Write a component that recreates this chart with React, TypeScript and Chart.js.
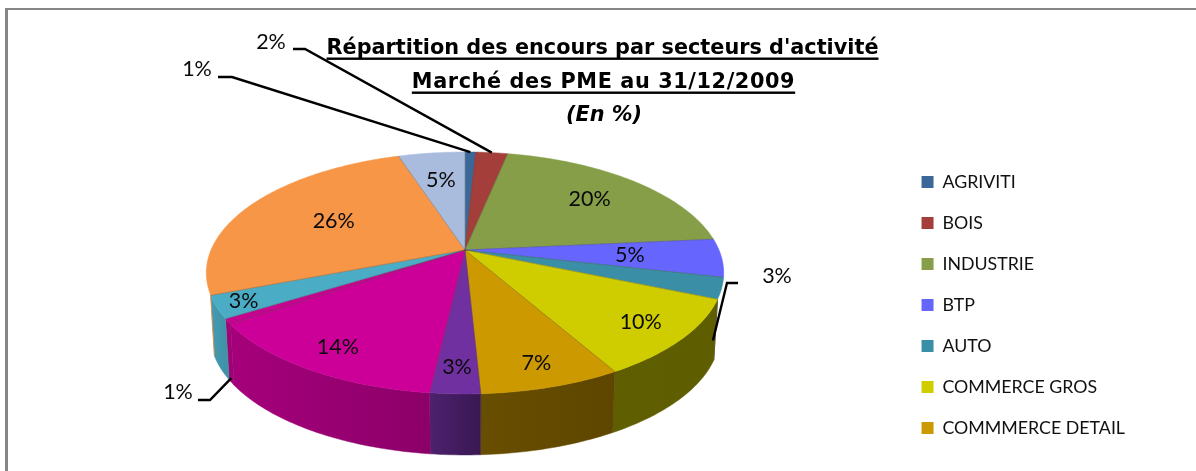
import React, { useEffect, useRef } from "react";
import { Chart, registerables } from "chart.js";

Chart.register(...registerables);

const titleLines = ["Répartition des encours par secteurs d'activité", "Marché des PME au 31/12/2009"];
const titleNote = "(En %)";
// Only the first seven legend entries are visible in the reference; the others are cut off.
const categories = ["AGRIVITI", "BOIS", "INDUSTRIE", "BTP", "AUTO", "COMMERCE GROS", "COMMMERCE DETAIL", "", " ", "  ", "   ", "    ", "     "];
const shares = [0.8, 2.4, 20.3, 5.1, 2.8, 10.4, 7.4, 2.6, 13.6, 0.7, 3.0, 25.9, 5.0];
const colors = ["#3c6899", "#a33e3b", "#859e47", "#6666ff", "#3a8fa6", "#cfcc00", "#cc9900", "#7030a0", "#cc0099", "#c4048f", "#4bacc6", "#f79646", "#a9bcdd"];
const visibleLegendEntries = 7;

// Style of the pseudo-3D projection
const CX = 465, CY = 250, RX = 254, RY = 116.6, K = 0.19, DEPTH = 61, BASE_SCALE = 0.985;
const WALL_FROM = (113 * Math.PI) / 180, WALL_TO = (249 * Math.PI) / 180;
const insideLabelRadius = [0, 0, 0.72, 0.645, 0, 0.83, 0.85, 0.844, 0.84, 0, 0.9, 0.6, 0.684];
const leaders: Record<number, { text: [number, number]; stub: [number, number, number]; depth: number; radius: number }> = {
  0: { text: [197, 69], stub: [218, 232, 77], depth: 0, radius: 1 },
  1: { text: [271, 42], stub: [293, 305, 49], depth: 0, radius: 1 },
  4: { text: [777, 276], stub: [738, 727, 283], depth: 0.87, radius: 0.98 },
  9: { text: [178, 392], stub: [198, 210, 400], depth: 0.93, radius: 1 },
};
const shadeStops: [number, number][] = [[90, 0.45], [150, 0.46], [175, 0.5], [186.3, 0.55], [186.5, 0.7], [200, 0.72], [235, 0.8], [240, 0.88], [270, 0.95]];

function project(theta: number, r: number, t = 0): [number, number] {
  const X = r * Math.sin(theta), Y = r * Math.cos(theta), w = 1 + K * Y;
  const s = 1 - (1 - BASE_SCALE) * t;
  return [CX + (RX * X * s) / w, CY - (RY * Y) / w + DEPTH * t];
}
function shade(hex: string, deg: number) {
  let f = shadeStops[0][1];
  for (let i = 0; i < shadeStops.length - 1; i++) {
    const [a, fa] = shadeStops[i], [b, fb] = shadeStops[i + 1];
    if (deg >= a && deg <= b) f = fa + ((fb - fa) * (deg - a)) / (b - a);
  }
  const n = parseInt(hex.slice(1), 16);
  return `rgb(${((n >> 16) & 255) * f},${((n >> 8) & 255) * f},${(n & 255) * f})`;
}

const pie3d = {
  id: "pie3d",
  beforeDatasetDraw(chart: any, args: any) {
    const ctx = chart.ctx;
    const arcs = args.meta.data.map((a: any) => ({ a: a.startAngle + Math.PI / 2, b: a.endAngle + Math.PI / 2 }));
    const step = Math.PI / 180;
    ctx.save();
    // side wall
    arcs.forEach((arc: any, i: number) => {
      const a = Math.max(arc.a, WALL_FROM), b = Math.min(arc.b, WALL_TO);
      if (b <= a) return;
      const n = Math.max(2, Math.ceil((b - a) / step));
      const pts: [number, number][] = [];
      for (let j = 0; j <= n; j++) pts.push(project(a + ((b - a) * j) / n, 1, 0));
      for (let j = n; j >= 0; j--) pts.push(project(a + ((b - a) * j) / n, 1, 1));
      const g = ctx.createLinearGradient(project(a, 1)[0], 0, project(b, 1)[0], 0);
      g.addColorStop(0, shade(colors[i], (a * 180) / Math.PI));
      g.addColorStop(1, shade(colors[i], (b * 180) / Math.PI));
      ctx.fillStyle = g;
      ctx.strokeStyle = g;
      ctx.lineWidth = 0.5;
      ctx.beginPath();
      pts.forEach((p, k) => (k ? ctx.lineTo(p[0], p[1]) : ctx.moveTo(p[0], p[1])));
      ctx.closePath();
      ctx.fill();
      ctx.stroke();
    });
    // top face
    arcs.forEach((arc: any, i: number) => {
      const n = Math.max(2, Math.ceil((arc.b - arc.a) / step));
      ctx.beginPath();
      ctx.moveTo(CX, CY);
      for (let j = 0; j <= n; j++) {
        const p = project(arc.a + ((arc.b - arc.a) * j) / n, 1);
        ctx.lineTo(p[0], p[1]);
      }
      ctx.closePath();
      ctx.fillStyle = colors[i];
      ctx.strokeStyle = colors[i];
      ctx.lineWidth = 0.5;
      ctx.fill();
      ctx.stroke();
    });
    // soft seams between slices
    ctx.strokeStyle = "rgba(60,50,40,0.28)";
    ctx.lineWidth = 1;
    arcs.forEach((arc: any) => {
      const p = project(arc.a, 1);
      ctx.beginPath();
      ctx.moveTo(CX, CY);
      ctx.lineTo(p[0], p[1]);
      ctx.stroke();
    });
    // value labels and leaders
    ctx.font = "21.5px Lato";
    ctx.fillStyle = "#0a0a0a";
    ctx.textAlign = "center";
    ctx.textBaseline = "middle";
    arcs.forEach((arc: any, i: number) => {
      const mid = (arc.a + arc.b) / 2;
      const text = `${Math.round(shares[i])}%`;
      const leader = leaders[i];
      if (leader) {
        const end = project(mid, leader.radius, leader.depth);
        ctx.strokeStyle = "#000";
        ctx.lineWidth = 2.4;
        ctx.beginPath();
        ctx.moveTo(leader.stub[0], leader.stub[2]);
        ctx.lineTo(leader.stub[1], leader.stub[2]);
        ctx.lineTo(end[0], end[1]);
        ctx.stroke();
        ctx.fillText(text, leader.text[0], leader.text[1]);
      } else {
        const p = project(mid, insideLabelRadius[i]);
        ctx.fillText(text, p[0], p[1]);
      }
    });
    ctx.restore();
    return false;
  },
  beforeDraw(chart: any) {
    const ctx = chart.ctx;
    ctx.save();
    ctx.fillStyle = "#ffffff";
    ctx.fillRect(0, 0, chart.width, chart.height);
    ctx.fillStyle = "#868686";
    ctx.fillRect(5, 8, chart.width - 5, 2);
    ctx.fillRect(5, 8, 3, chart.height - 8);
    // title
    ctx.fillStyle = "#000";
    ctx.textAlign = "center";
    ctx.textBaseline = "alphabetic";
    ctx.font = 'bold 20.8px "DejaVu Sans"';
    [[602.5, 54, "0px"], [603.5, 88, "0.6px"]].forEach(([x, y, spacing]: any, i) => {
      ctx.letterSpacing = spacing;
      ctx.fillText(titleLines[i], x, y);
      const w = ctx.measureText(titleLines[i]).width;
      ctx.fillRect(x - w / 2, y + 3.5, w, 2.4);
    });
    ctx.letterSpacing = "0px";
    ctx.font = 'italic bold 20.8px "DejaVu Sans"';
    ctx.fillText(titleNote, 604, 121);
    ctx.restore();
  },
};

export default function App() {
  const ref = useRef<HTMLCanvasElement>(null);
  useEffect(() => {
    const chart = new Chart(ref.current!, {
      type: "pie",
      data: {
        labels: categories,
        datasets: [{ data: shares, backgroundColor: colors, borderWidth: 0 }],
      },
      options: {
        responsive: false,
        animation: false,
        layout: { padding: { top: 150, right: 61 } },
        plugins: {
          tooltip: { enabled: false },
          legend: {
            position: "right",
            align: "start",
            labels: {
              boxWidth: 12,
              boxHeight: 12,
              padding: 23.2,
              color: "#111",
              font: { family: "Lato", size: 17.8 },
              filter: (item: any) => item.index < visibleLegendEntries,
            },
          },
        },
      },
      plugins: [pie3d],
    } as any);
    return () => chart.destroy();
  }, []);
  return (
    <div style={{ position: "absolute", left: 0, top: 0, width: 1196, height: 471, overflow: "hidden" }}>
      <canvas ref={ref} width={1196} height={471} style={{ display: "block" }} />
    </div>
  );
}
